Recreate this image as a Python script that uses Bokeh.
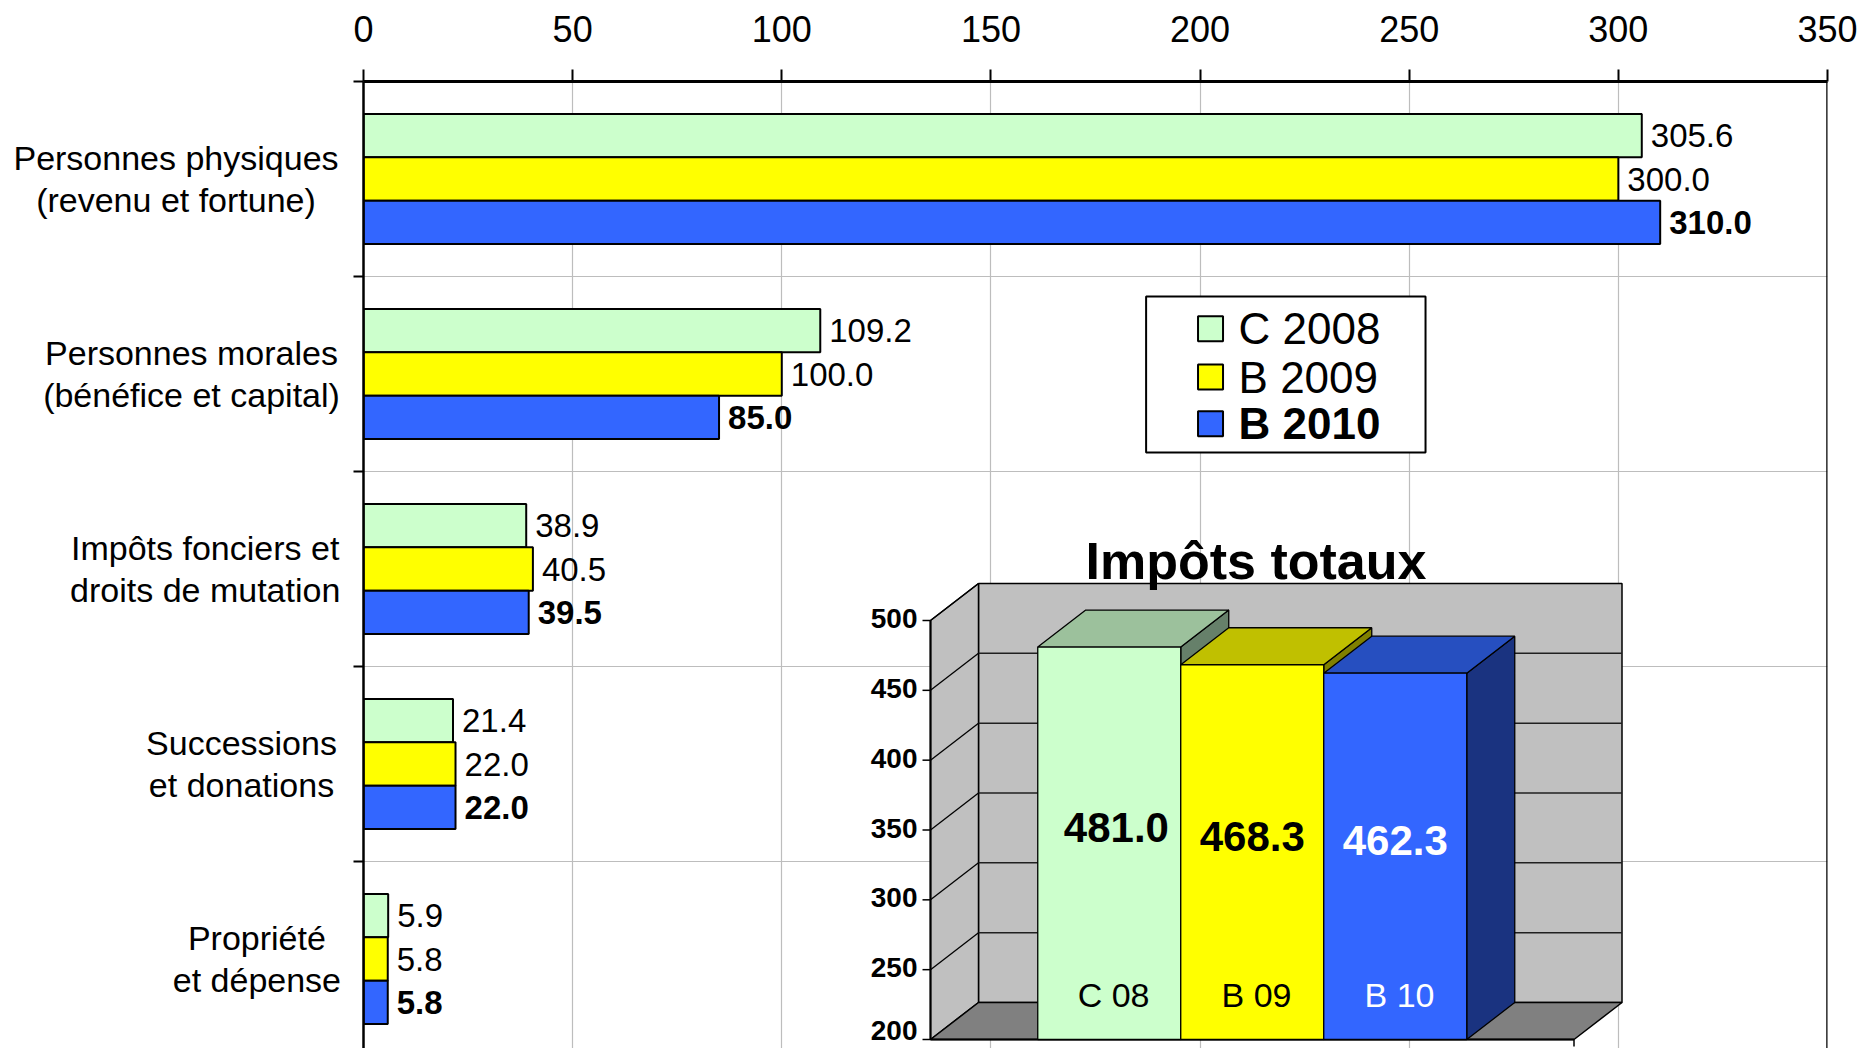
from bokeh.plotting import figure
from bokeh.layouts import row
from bokeh.models import Range1d, FixedTicker, ColumnDataSource, Span
from bokeh.core.properties import value
from bokeh.embed import file_html
from bokeh.resources import INLINE

FONT = "Liberation Sans"

# ---------------- data ----------------
cat_line1 = ["Personnes physiques", "Personnes morales", "Impôts fonciers et", "Successions", "Propriété"]
cat_line2 = ["(revenu et fortune)", "(bénéfice et capital)", "droits de mutation", "et donations", "et dépense"]
c2008 = [305.6, 109.2, 38.9, 21.4, 5.9]
b2009 = [300.0, 100.0, 40.5, 22.0, 5.8]
b2010 = [310.0, 85.0, 39.5, 22.0, 5.8]
series = ["C 2008", "B 2009", "B 2010"]
x_ticks = [0, 50, 100, 150, 200, 250, 300, 350]

total_names = ["C 08", "B 09", "B 10"]
totals = [481.0, 468.3, 462.3]
total_ticks = [200, 250, 300, 350, 400, 450, 500]

# ---------------- styles ----------------
colors = ["#ccffcc", "#ffff00", "#3366ff"]
top_colors = ["#9cc19c", "#c0c000", "#264fc0"]
side_colors = ["#66806a", "#808000", "#1a3380"]
inset_text_colors = ["black", "black", "white"]

# page-pixel geometry
PAGE_W, PAGE_H = 1858, 1048
FRAME_L, FRAME_R, FRAME_T, FRAME_B = 363, 1827, 81, PAGE_H
LABEL_W = 343
CAT_PX = 195.0

y_range = Range1d((FRAME_B - FRAME_T) / CAT_PX, 0)

p = figure(width=PAGE_W - LABEL_W, height=PAGE_H, output_backend="svg", toolbar_location=None,
           x_range=Range1d(0, 350), y_range=y_range, x_axis_location="above",
           min_border_left=FRAME_L - LABEL_W, min_border_right=PAGE_W - FRAME_R,
           min_border_top=FRAME_T, min_border_bottom=0)
p.outline_line_color = None
p.background_fill_color = "white"
p.border_fill_color = "white"

xa = p.xaxis[0]
xa.ticker = FixedTicker(ticks=x_ticks)
xa.axis_line_width = 3
xa.axis_line_color = "black"
xa.major_tick_line_width = 2
xa.major_tick_out = 12
xa.major_tick_in = 0
xa.minor_tick_line_color = None
xa.major_label_text_font = FONT
xa.major_label_text_font_size = "36px"
xa.major_label_text_color = "black"
xa.major_label_standoff = 28

ya = p.yaxis[0]
ya.ticker = FixedTicker(ticks=[0, 1, 2, 3, 4, 5])
ya.major_label_text_color = None
ya.major_label_text_font_size = "1px"
ya.major_label_standoff = 0
ya.axis_line_width = 2.5
ya.axis_line_color = "black"
ya.major_tick_out = 10
ya.major_tick_in = 0
ya.major_tick_line_width = 2
ya.minor_tick_line_color = None

p.xgrid.ticker = FixedTicker(ticks=x_ticks[1:-1])
p.xgrid.grid_line_color = "#bdbdbd"
p.xgrid.grid_line_width = 1.2
p.ygrid.ticker = FixedTicker(ticks=[1, 2, 3, 4])
p.ygrid.grid_line_color = "#bdbdbd"
p.ygrid.grid_line_width = 1.2

p.add_layout(Span(location=350, dimension="height", line_color="black", line_width=2.5))

# ---------------- main bars ----------------
BAR_H = 130.0 / CAT_PX / 3
offsets = [-BAR_H, 0.0, BAR_H]
for k, vals in enumerate([c2008, b2009, b2010]):
    ys = [i + 0.5 + offsets[k] for i in range(len(vals))]
    src = ColumnDataSource(dict(y=ys, right=vals, label=[f"{v:.1f}" for v in vals]))
    p.hbar(y="y", left=0, right="right", height=BAR_H, source=src,
           fill_color=colors[k], line_color="black", line_width=2)
    p.text(x="right", y="y", text="label", source=src, x_offset=9,
           text_baseline="middle", text_align="left", text_font=value(FONT),
           text_font_size="33px", text_font_style="bold" if k == 2 else "normal",
           text_color="black")

# ---------------- category labels (separate panel on the left) ----------------
lf = figure(width=LABEL_W, height=PAGE_H, output_backend="svg", toolbar_location=None,
            x_range=Range1d(0, LABEL_W), y_range=y_range,
            x_axis_location=None, y_axis_location=None,
            min_border_left=0, min_border_right=0, min_border_top=FRAME_T, min_border_bottom=0)
lf.outline_line_color = None
lf.grid.visible = False
lf.background_fill_color = "white"
lf.border_fill_color = "white"

label_cx = [175.5, 191.0, 204.7, 241.0, 256.4]
lab_x, lab_y, lab_t = [], [], []
for i in range(len(cat_line1)):
    for line, dy in ((cat_line1[i], -0.107), (cat_line2[i], 0.108)):
        lab_x.append(label_cx[i])
        lab_y.append(i + 0.5 + dy)
        lab_t.append(line)
lf.text(x=lab_x, y=lab_y, text=lab_t, text_align="center", text_baseline="middle",
        text_font=value(FONT), text_font_size="34px", text_color="black")

# ---------------- legend ----------------
p.quad(left=[187.1], right=[253.9], top=[1.1026], bottom=[1.9026],
       fill_color="white", line_color="black", line_width=2)
leg_y = [1.268, 1.516, 1.755]
p.scatter(x=[202.5] * 3, y=leg_y, marker="square", size=25, fill_color=colors,
          line_color="black", line_width=2)
p.text(x=[209.2] * 2, y=leg_y[:2], text=series[:2], text_baseline="middle",
       text_font=value(FONT), text_font_size="44px", text_color="black")
p.text(x=[209.2], y=leg_y[2:], text=series[2:], text_baseline="middle",
       text_font=value(FONT), text_font_size="44px", text_font_style="bold", text_color="black")

# ---------------- inset 3D column chart ----------------
IX0, IPX = 930.0, 143.0           # page x of inset x=0, pixels per bar width
IY200, IPY = 1039.0, 419.0 / 300   # page y of value 200, pixels per unit
p.extra_x_ranges = {"ix": Range1d((FRAME_L - IX0) / IPX, (FRAME_R - IX0) / IPX)}
p.extra_y_ranges = {"iy": Range1d(200 - (FRAME_B - IY200) / IPY, 200 + (IY200 - FRAME_T) / IPY)}
R = dict(x_range_name="ix", y_range_name="iy")

DX = 48.0 / IPX
DY = 37.0 / IPY
GAP = 0.75
FLOOR_W = len(totals) + 2 * GAP
YMIN, YMAX = total_ticks[0], total_ticks[-1]

# back wall, left wall, floor
p.quad(left=[DX], right=[FLOOR_W + DX], bottom=[YMIN + DY], top=[YMAX + DY],
       fill_color="#c0c0c0", line_color="black", line_width=1.5, **R)
p.patch(x=[0, DX, DX, 0], y=[YMIN, YMIN + DY, YMAX + DY, YMAX],
        fill_color="#c0c0c0", line_color="black", line_width=1.5, **R)
p.patch(x=[0, FLOOR_W, FLOOR_W + DX, DX], y=[YMIN, YMIN, YMIN + DY, YMIN + DY],
        fill_color="#808080", line_color="black", line_width=1.5, **R)
# wall gridlines
inner = total_ticks[1:-1]
p.segment(x0=[DX] * len(inner), y0=[v + DY for v in inner],
          x1=[FLOOR_W + DX] * len(inner), y1=[v + DY for v in inner],
          line_color="#202020", line_width=1.5, **R)
p.segment(x0=[0] * len(total_ticks[1:]), y0=total_ticks[1:],
          x1=[DX] * len(total_ticks[1:]), y1=[v + DY for v in total_ticks[1:]],
          line_color="black", line_width=1.3, **R)
# front axis lines and ticks
p.segment(x0=[0, 0], y0=[YMIN, YMIN], x1=[0, FLOOR_W], y1=[YMAX, YMIN],
          line_color="black", line_width=2, **R)
TICK = 8.0 / IPX
p.segment(x0=[-TICK] * len(total_ticks), y0=total_ticks, x1=[0] * len(total_ticks), y1=total_ticks,
          line_color="black", line_width=1.5, **R)
p.segment(x0=[FLOOR_W], y0=[YMIN], x1=[FLOOR_W], y1=[YMIN - 7.0 / IPY],
          line_color="black", line_width=1.5, **R)

# bars: sides, tops, fronts
x0s = [GAP + i for i in range(len(totals))]
x1s = [x + 1 for x in x0s]
p.patches(xs=[[x1, x1, x1 + DX, x1 + DX] for x1 in x1s],
          ys=[[YMIN, v, v + DY, YMIN + DY] for v in totals],
          fill_color=side_colors, line_color="black", line_width=1.3, **R)
p.patches(xs=[[x0, x1, x1 + DX, x0 + DX] for x0, x1 in zip(x0s, x1s)],
          ys=[[v, v, v + DY, v + DY] for v in totals],
          fill_color=top_colors, line_color="black", line_width=1.3, **R)
p.quad(left=x0s, right=x1s, bottom=[YMIN] * len(totals), top=totals,
       fill_color=colors, line_color="black", line_width=1.3, **R)

centers = [x + 0.5 for x in x0s]
p.text(x=[centers[0] + 0.05] + centers[1:], y=[(v + YMIN) / 2 + DY / 2 - 3.0 / IPY for v in totals],
       text=[f"{v:.1f}" for v in totals],
       text_align="center", text_baseline="middle", text_font=value(FONT),
       text_font_size="42px", text_font_style="bold", text_color=inset_text_colors, **R)
p.text(x=[c + 0.03 for c in centers], y=[YMIN + 45.0 / IPY] * len(totals), text=total_names,
       text_align="center", text_baseline="middle", text_font=value(FONT),
       text_font_size="34px", text_color=inset_text_colors, **R)

# inset value-axis labels (lowest one lifted slightly so it is not cut by the page edge)
p.text(x=[-TICK - 5.0 / IPX] * len(total_ticks),
       y=[max(v + 2.0 / IPY, YMIN + 9.0 / IPY) for v in total_ticks],
       text=[str(v) for v in total_ticks], text_align="right", text_baseline="middle",
       text_font=value(FONT), text_font_size="28px", text_font_style="bold",
       text_color="black", **R)

p.text(x=[(1255.5 - IX0) / IPX], y=[200 + (IY200 - 560) / IPY], text=["Impôts totaux"],
       text_align="center", text_baseline="alphabetic", text_font=value(FONT),
       text_font_size="52px", text_font_style="bold", text_color="black", **R)

layout = row(lf, p, spacing=0)
open("out.html", "w").write(file_html(layout, INLINE))
